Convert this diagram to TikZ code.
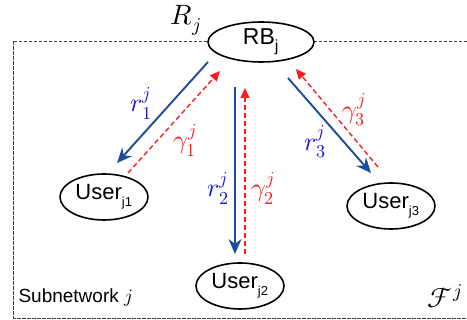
\documentclass[tikz,border=0pt]{standalone}
\usepackage{fontspec}
\setmainfont{Liberation Sans}
\usepackage{unicode-math}
\setmathfont{Latin Modern Math}
\usetikzlibrary{shapes.geometric,arrows.meta}
\definecolor{dblue}{RGB}{30,75,155}
\definecolor{lblue}{RGB}{20,20,235}
\definecolor{lred}{RGB}{250,30,30}
\tikzset{
  ell/.style={ellipse, draw=black, line width=1.6pt, fill=white, inner sep=0pt, font=\fontsize{22}{24}\selectfont},
  usr/.style={ell, minimum width=88pt, minimum height=46pt},
  down/.style={dblue, line width=1.9pt, -{Stealth[length=15pt,width=13pt]}},
  up/.style={lred, line width=1.4pt, dash pattern=on 5pt off 3pt, -{Triangle[length=10pt,width=9pt]}},
  blab/.style={lblue, font=\fontsize{26}{28}\selectfont},
  rlab/.style={lred, font=\fontsize{26}{28}\selectfont},
}
\begin{document}
\begin{tikzpicture}[x=1pt,y=-1pt]
\useasboundingbox (0,0) rectangle (467,320);
\draw[line width=0.9pt, dash pattern=on 3.5pt off 1.5pt, black!75] (13.5,41.5) -- (470,41.5);
\draw[line width=0.9pt, dash pattern=on 3.5pt off 1.5pt, black!75] (13.5,41.5) -- (13.5,318) -- (470,318);
\node[ell, minimum width=106pt, minimum height=40pt, font=\fontsize{23}{24}\selectfont] (rb) at (261,42) {RB\textsubscript{\raisebox{-1pt}{j}}};
\node[usr] (u1) at (104,197) {User\textsubscript{\raisebox{-1.5pt}{\fontsize{13}{14}\selectfont j1}}};
\node[usr] (u2) at (240,286) {User\textsubscript{\raisebox{-1.5pt}{\fontsize{13}{14}\selectfont j2}}};
\node[usr] (u3) at (391,206) {User\textsubscript{\raisebox{-1.5pt}{\fontsize{13}{14}\selectfont j3}}};
\node[font=\fontsize{28}{30}\selectfont] (rj) at (186,20) {$R_j$};
\node[anchor=west, font=\fontsize{19}{20}\selectfont] (sub) at (15,298) {Subnetwork $j$};
\node[font=\fontsize{28}{30}\selectfont] (fj) at (445,296) {$\mathcal{F}^j$};
% arrows
\coordinate (a1s) at (208,62); \coordinate (a1e) at (117,163);
\coordinate (b1s) at (128,173); \coordinate (b1e) at (220,71);
\coordinate (a2s) at (235,87); \coordinate (a2e) at (235,254);
\coordinate (b2s) at (245,254); \coordinate (b2e) at (245,88);
\coordinate (a3s) at (288,78); \coordinate (a3e) at (371,173);
\coordinate (b3s) at (378,167); \coordinate (b3e) at (296,69);
\draw[down] (a1s) -- (a1e);
\draw[up] (b1s) -- (b1e);
\draw[down] (a2s) -- (a2e);
\draw[up] (b2s) -- (b2e);
\draw[down] (a3s) -- (a3e);
\draw[up] (b3s) -- (b3e);
\node[blab] (l1) at (141,103) {$r_1^j$};
\node[rlab] (g1) at (185,140) {$\gamma_1^j$};
\node[blab] (l2) at (218,188) {$r_2^j$};
\node[rlab] (g2) at (263,188) {$\gamma_2^j$};
\node[blab] (l3) at (315,142) {$r_3^j$};
\node[rlab] (g3) at (354,110) {$\gamma_3^j$};
\end{tikzpicture}
\end{document}
